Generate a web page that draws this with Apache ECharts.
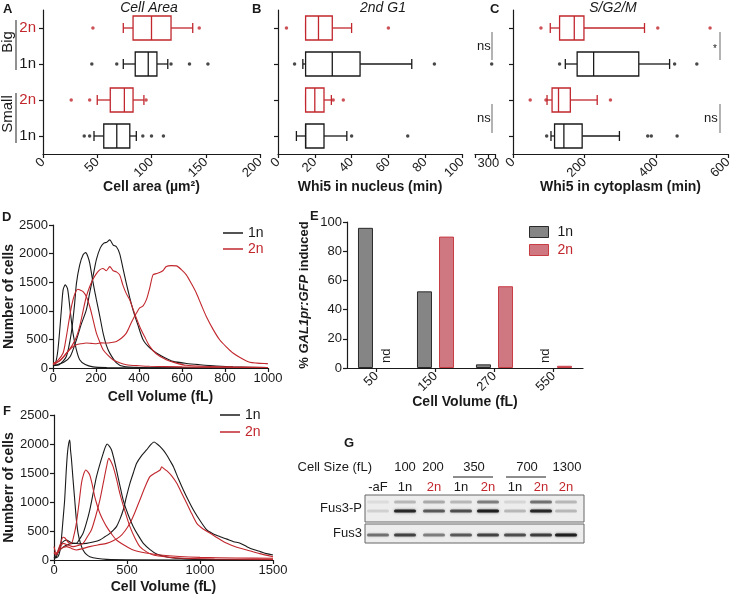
<!DOCTYPE html>
<html><head><meta charset="utf-8">
<script src="https://cdn.jsdelivr.net/npm/echarts@6/dist/echarts.min.js"></script>
<style>html,body{margin:0;padding:0;background:#fff}#c{width:740px;height:598px}</style>
</head><body><div id="c"></div>
<script>
// ---------- DATA ----------
const rowCats = ['Big 2n', 'Big 1n', 'Small 2n', 'Small 1n'];
// box stats per row: [whisker low, Q1, median, Q3, whisker high]
const areaBox = [[74, 83, 100, 118, 138], [74, 85, 97, 105, 115], [50, 62, 75, 83, 93], [47, 56, 68, 80, 86]];
const areaOut = [[46, 144], [45, 68, 118, 135, 152], [26, 43, 95], [38, 43, 92, 100, 111]];
const g1Box = [[15, 15, 22, 29.5, 40], [13.5, 15, 29.5, 44.6, 72.7], [15, 15, 20, 25, 29], [10, 15, 15, 25, 37.4]];
const g1Out = [[4.6, 60], [9, 85], [30, 35.5], [40, 70.5]];
const g1Far = [[], [305], [], []];
const sgBox = [[104, 130, 171, 198, 367], [146, 179, 225, 351, 437], [95, 109, 127, 160, 235], [106, 116, 142, 193, 297]];
const sgOut = [[78, 404, 550], [130, 451, 513], [48, 92, 272], [94, 376, 386, 458]];

// D: cell volume distributions [fL, cells]
const D1nA = [[0,40],[10,60],[23,320],[39,1017],[47,1366],[57,1453],[68,1380],[80,1000],[93,610],[108,330],[124,145],[150,60],[186,20],[250,8],[400,3],[1000,0]];
const D1nB = [[0,40],[30,60],[62,200],[85,610],[100,1100],[109,1480],[124,1800],[140,1980],[152,2017],[162,1950],[171,1830],[186,1500],[202,1190],[218,900],[233,610],[248,400],[264,260],[295,90],[326,30],[400,10],[600,3],[1000,0]];
const D1nC = [[0,40],[50,100],[80,200],[109,494],[130,750],[155,1017],[170,1300],[186,1600],[202,1900],[220,2100],[235,2180],[250,2200],[264,2240],[280,2150],[295,2120],[310,2000],[325,1750],[341,1480],[357,1230],[372,1017],[395,750],[419,494],[450,350],[481,262],[520,180],[558,116],[620,80],[682,58],[760,35],[837,20],[1000,8]];
const D2nA = [[0,80],[20,120],[47,262],[60,500],[70,727],[82,1000],[93,1190],[105,1330],[116,1378],[128,1360],[140,1337],[155,1250],[171,1075],[186,850],[202,610],[218,450],[233,320],[256,220],[279,145],[310,90],[341,58],[400,40],[450,30],[600,20],[800,12],[1000,10]];
const D2nB = [[0,80],[30,120],[62,250],[90,400],[110,550],[124,727],[140,1000],[155,1250],[171,1424],[186,1550],[202,1650],[217,1715],[232,1740],[248,1700],[264,1773],[280,1700],[295,1680],[310,1628],[325,1450],[341,1300],[357,1190],[380,950],[403,727],[427,540],[450,378],[480,250],[527,145],[570,90],[620,47],[700,30],[837,15],[1000,10]];
const D2nC = [[0,60],[16,87],[40,160],[62,262],[85,350],[109,407],[132,425],[155,436],[178,430],[202,424],[225,440],[248,436],[272,445],[295,465],[318,520],[341,610],[365,800],[388,960],[403,1050],[419,1087],[435,1200],[450,1400],[465,1628],[480,1650],[496,1669],[511,1700],[527,1773],[550,1790],[574,1785],[597,1720],[620,1628],[643,1480],[667,1308],[690,1100],[713,901],[744,680],[775,494],[806,370],[837,262],[876,170],[915,99],[950,85],[992,76],[1000,75]];

// E: % GAL1pr:GFP induced
const eCats = ['50', '150', '270', '550'];
const e1n = [96, 52.5, 2.5, null];
const e2n = [null, 90, 56, 1.5];

// F: cell volume distributions [fL, cells]
const F1nA = [[0,30],[15,40],[27,57],[40,150],[50,345],[62,700],[73,1034],[83,1500],[92,1839],[100,2000],[108,2069],[113,1900],[119,1753],[130,1400],[142,1034],[153,700],[165,460],[182,280],[199,172],[220,100],[245,57],[300,25],[360,10],[500,3],[1500,0]];
const F1nB = [[0,30],[16,57],[35,200],[50,287],[70,330],[85,345],[110,310],[130,290],[153,287],[175,360],[199,460],[222,640],[245,862],[268,1150],[291,1437],[314,1650],[337,1839],[352,1950],[364,2000],[380,1960],[394,1897],[410,1750],[428,1552],[450,1300],[474,1034],[508,780],[543,575],[578,420],[612,287],[658,180],[703,103],[760,60],[817,34],[900,20],[1000,10],[1500,3]];
const F1nC = [[0,30],[20,100],[39,172],[80,250],[130,287],[175,280],[222,287],[268,310],[314,345],[348,400],[383,460],[405,510],[428,575],[451,700],[474,862],[497,1100],[520,1322],[543,1500],[566,1667],[600,1800],[634,1897],[660,1980],[685,2034],[706,2000],[727,1954],[750,1890],[772,1810],[795,1710],[818,1609],[852,1400],[886,1207],[920,1030],[955,862],[1000,680],[1047,517],[1092,450],[1138,402],[1184,360],[1230,316],[1275,290],[1321,230],[1367,180],[1413,144],[1456,110],[1500,86]];
const F2nA = [[0,230],[16,115],[40,250],[62,391],[75,380],[85,345],[100,300],[119,287],[136,420],[153,632],[170,950],[188,1322],[203,1480],[218,1552],[232,1520],[245,1466],[262,1300],[279,1092],[296,940],[314,805],[337,680],[360,575],[394,450],[428,345],[485,250],[543,172],[630,120],[726,86],[860,60],[1000,46],[1250,35],[1500,29]];
const F2nB = [[0,120],[16,86],[40,200],[62,287],[95,260],[130,230],[165,250],[199,287],[228,400],[256,517],[285,750],[314,1034],[337,1320],[360,1609],[375,1753],[390,1700],[405,1609],[428,1400],[451,1149],[485,850],[520,575],[554,380],[588,230],[634,140],[680,86],[780,50],[886,29],[1100,18],[1500,10]];
const F2nC = [[0,130],[16,115],[50,200],[85,230],[120,200],[153,172],[200,200],[245,230],[300,260],[360,287],[405,330],[451,402],[486,500],[520,632],[554,820],[588,1034],[622,1250],[657,1437],[692,1500],[727,1552],[738,1609],[755,1570],[772,1540],[806,1450],[841,1322],[875,1150],[909,977],[943,800],[978,632],[1024,530],[1070,460],[1127,370],[1184,287],[1252,220],[1321,172],[1410,110],[1500,57]];

// G: blot lanes and relative band intensities
const sizeLabels = ['100', '200', '350', '700', '1300'];
const blotLanes = ['-aF', '1n', '2n', '1n', '2n', '1n', '2n', '2n'];
const fus3pLow = [0.12, 0.85, 0.6, 0.65, 0.9, 0.22, 0.85, 0.22];
const fus3pUp = [0.08, 0.22, 0.28, 0.22, 0.45, 0.1, 0.5, 0.22];
const fus3 = [0.5, 0.7, 0.45, 0.6, 0.7, 0.65, 0.72, 0.9];

// ---------- STYLE ----------
const FONT = 'Liberation Sans, Arial, Helvetica, sans-serif';
const RED = '#c1272d', BLK = '#1a1a1a', GREY = '#8a8a8a';
const rowColors = [RED, BLK, RED, BLK];

function vAxis(grid, min, max, interval, extra) {
  const a = {
    type: 'value', gridIndex: grid, min: min, max: max, interval: interval,
    nameMoveOverlap: false,
    axisLine: { show: true, onZero: false, lineStyle: { color: BLK, width: 1.2 } },
    axisTick: { show: true, length: 4, lineStyle: { color: BLK, width: 1.2 } },
    axisLabel: { color: BLK, fontSize: 13, fontFamily: FONT, margin: 5, formatter: v => String(v) },
    splitLine: { show: false },
    nameTextStyle: { color: BLK, fontSize: 14, fontWeight: 'bold', fontFamily: FONT }
  };
  if (extra) {
    for (const k in extra) {
      if (typeof extra[k] === 'object' && a[k] && !Array.isArray(extra[k])) a[k] = Object.assign({}, a[k], extra[k]);
      else a[k] = extra[k];
    }
  }
  return a;
}
function catYAxis(grid, showLabels, showLine) {
  return {
    type: 'category', gridIndex: grid, data: rowCats, inverse: true,
    axisLine: { show: showLine, lineStyle: { color: BLK, width: 1.2 } },
    axisTick: { show: showLine, alignWithLabel: true, length: 4, lineStyle: { color: BLK, width: 1.2 } },
    axisLabel: showLabels ? {
      margin: 7, fontFamily: FONT,
      formatter: v => v.indexOf('2n') >= 0 ? '{r|2n}' : '{k|1n}',
      rich: { r: { color: RED, fontSize: 15, fontFamily: FONT }, k: { color: BLK, fontSize: 15, fontFamily: FONT } }
    } : { show: false },
    splitLine: { show: false }
  };
}
function boxSeries(stats, ax) {
  return {
    type: 'custom', xAxisIndex: ax, yAxisIndex: ax, coordinateSystem: 'cartesian2d',
    data: stats.map((s, i) => [i].concat(s)),
    encode: { x: [1, 2, 3, 4, 5], y: 0 },
    silent: true,
    renderItem: function (params, api) {
      const cat = api.value(0);
      const col = rowColors[cat];
      const p = [1, 2, 3, 4, 5].map(d => api.coord([api.value(d), cat]));
      const y = p[0][1], bh = 24, ch = 10;
      const st = { stroke: col, lineWidth: 1.3, fill: null };
      return {
        type: 'group', children: [
          { type: 'line', shape: { x1: p[0][0], y1: y, x2: p[1][0], y2: y }, style: st },
          { type: 'line', shape: { x1: p[3][0], y1: y, x2: p[4][0], y2: y }, style: st },
          { type: 'line', shape: { x1: p[0][0], y1: y - ch / 2, x2: p[0][0], y2: y + ch / 2 }, style: st },
          { type: 'line', shape: { x1: p[4][0], y1: y - ch / 2, x2: p[4][0], y2: y + ch / 2 }, style: st },
          { type: 'rect', shape: { x: p[1][0], y: y - bh / 2, width: p[3][0] - p[1][0], height: bh }, style: { stroke: col, lineWidth: 1.3, fill: '#fff' } },
          { type: 'line', shape: { x1: p[2][0], y1: y - bh / 2, x2: p[2][0], y2: y + bh / 2 }, style: st }
        ]
      };
    }
  };
}
function outSeries(outs, ax) {
  const data = [];
  outs.forEach((arr, i) => arr.forEach(v => data.push({ value: [v, i], itemStyle: { color: rowColors[i] } })));
  return { type: 'scatter', xAxisIndex: ax, yAxisIndex: ax, data: data, symbolSize: 3.5, silent: true };
}
function curve(name, data, ax) {
  return {
    type: 'line', name: name, xAxisIndex: ax, yAxisIndex: ax, data: data,
    showSymbol: false, smooth: 0.25, silent: true,
    lineStyle: { width: 1.1, color: name === '1n' ? BLK : RED }, itemStyle: { color: name === '1n' ? BLK : RED }
  };
}
const noneBounds = { outerBoundsMode: 'none', containLabel: false };

const option = {
  animation: false,
  backgroundColor: '#fff',
  textStyle: { fontFamily: FONT },
  grid: [
    Object.assign({ left: 43, top: 10, width: 217, height: 144 }, noneBounds),   // A
    Object.assign({ left: 278, top: 10, width: 184, height: 144 }, noneBounds),  // B
    Object.assign({ left: 475, top: 10, width: 20, height: 144 }, noneBounds),   // B break
    Object.assign({ left: 513, top: 10, width: 215, height: 144 }, noneBounds),  // C
    Object.assign({ left: 53, top: 225, width: 215, height: 143 }, noneBounds),  // D
    Object.assign({ left: 347, top: 222, width: 236, height: 146 }, noneBounds), // E
    Object.assign({ left: 54, top: 415, width: 219, height: 145 }, noneBounds)   // F
  ],
  xAxis: [
    vAxis(0, 0, 200, 50, { axisLabel: { rotate: 45, margin: 6 }, name: 'Cell area (µm²)', nameLocation: 'middle', nameGap: 26 }),
    vAxis(1, 0, 100, 20, { axisLabel: { rotate: 45, margin: 6 }, name: 'Whi5 in nucleus (min)', nameLocation: 'middle', nameGap: 26 }),
    vAxis(2, 280, 310, 20, { axisLabel: { margin: 3, formatter: v => v === 300 ? '300' : '' } }),
    vAxis(3, 0, 600, 200, { axisLabel: { rotate: 45, margin: 6 }, name: 'Whi5 in cytoplasm (min)', nameLocation: 'middle', nameGap: 26 }),
    vAxis(4, 0, 1000, 200, { axisLabel: { margin: 4 }, name: 'Cell Volume (fL)', nameLocation: 'middle', nameGap: 22 }),
    {
      type: 'category', gridIndex: 5, data: eCats, nameMoveOverlap: false,
      axisLine: { show: true, lineStyle: { color: BLK, width: 1.2 } },
      axisTick: { show: true, alignWithLabel: true, length: 4, lineStyle: { color: BLK, width: 1.2 } },
      axisLabel: { rotate: 45, color: BLK, fontSize: 13, fontFamily: FONT, margin: 6 },
      name: 'Cell Volume (fL)', nameLocation: 'middle', nameGap: 27,
      nameTextStyle: { color: BLK, fontSize: 14, fontWeight: 'bold', fontFamily: FONT }
    },
    vAxis(6, 0, 1500, 500, { axisLabel: { margin: 4 }, name: 'Cell Volume (fL)', nameLocation: 'middle', nameGap: 20 })
  ],
  yAxis: [
    catYAxis(0, true, true),
    catYAxis(1, false, true),
    catYAxis(2, false, false),
    catYAxis(3, false, true),
    vAxis(4, 0, 2500, 500, { name: 'Number of cells', nameLocation: 'middle', nameGap: 37, nameRotate: 90 }),
    vAxis(5, 0, 100, 20, {
      name: '% {i|GAL1pr:GFP} induced', nameLocation: 'middle', nameGap: 36, nameRotate: 90,
      nameTextStyle: { fontSize: 13, rich: { i: { fontStyle: 'italic', fontWeight: 'bold', fontSize: 13, fontFamily: FONT, color: BLK } } }
    }),
    vAxis(6, 0, 2500, 500, { name: 'Numberr of cells', nameLocation: 'middle', nameGap: 38, nameRotate: 90 })
  ],
  legend: [
    {
      left: 223, top: 226, orient: 'vertical', padding: 0, itemGap: 2, itemWidth: 20, itemHeight: 1.5,
      textStyle: { fontSize: 14, fontFamily: FONT }, selectedMode: false,
      data: [
        { name: '1n', icon: 'rect', itemStyle: { color: BLK, borderWidth: 0 }, textStyle: { color: BLK } },
        { name: '2n', icon: 'rect', itemStyle: { color: RED, borderWidth: 0 }, textStyle: { color: RED } }
      ]
    },
    {
      left: 220, top: 408, orient: 'vertical', padding: 0, itemGap: 3, itemWidth: 20, itemHeight: 1.5,
      textStyle: { fontSize: 14, fontFamily: FONT }, selectedMode: false,
      data: [
        { name: '1n', icon: 'rect', itemStyle: { color: BLK, borderWidth: 0 }, textStyle: { color: BLK } },
        { name: '2n', icon: 'rect', itemStyle: { color: RED, borderWidth: 0 }, textStyle: { color: RED } }
      ]
    },
    {
      left: 529, top: 225, orient: 'vertical', padding: 0, itemGap: 4, itemWidth: 19, itemHeight: 11,
      textStyle: { fontSize: 14, fontFamily: FONT, padding: [0, 0, 0, 4] }, selectedMode: false,
      data: [
        { name: '1n', icon: 'rect', itemStyle: { color: '#858585', borderColor: '#2a2a2a', borderWidth: 1 }, textStyle: { color: BLK } },
        { name: '2n', icon: 'rect', itemStyle: { color: '#d07882', borderColor: '#c83c44', borderWidth: 1 }, textStyle: { color: RED } }
      ]
    }
  ],
  series: [
    boxSeries(areaBox, 0), outSeries(areaOut, 0),
    boxSeries(g1Box, 1), outSeries(g1Out, 1), outSeries(g1Far, 2),
    boxSeries(sgBox, 3), outSeries(sgOut, 3),
    curve('1n', D1nA, 4), curve('1n', D1nB, 4), curve('1n', D1nC, 4),
    curve('2n', D2nA, 4), curve('2n', D2nB, 4), curve('2n', D2nC, 4),
    {
      type: 'bar', name: '1n', xAxisIndex: 5, yAxisIndex: 5, data: e1n, barWidth: 15, barGap: '47%', silent: true,
      itemStyle: { color: '#858585', borderColor: '#2a2a2a', borderWidth: 1 }
    },
    {
      type: 'bar', name: '2n', xAxisIndex: 5, yAxisIndex: 5, data: e2n, barWidth: 15, barGap: '47%', silent: true,
      itemStyle: { color: '#d07882', borderColor: '#c83c44', borderWidth: 1 }
    },
    curve('1n', F1nA, 6), curve('1n', F1nB, 6), curve('1n', F1nC, 6),
    curve('2n', F2nA, 6), curve('2n', F2nB, 6), curve('2n', F2nC, 6)
  ]
};

const chart = echarts.init(document.getElementById('c'));
chart.setOption(option);

// ---------- annotations ----------
function txt(t, x, y, o) {
  return {
    type: 'text', x: x, y: y, rotation: (o && o.rot) || 0, silent: true,
    style: Object.assign({ text: t, fill: BLK, font: '13px ' + FONT, textAlign: 'left', textVerticalAlign: 'middle' }, (o && o.style) || {})
  };
}
function ln(x1, y1, x2, y2, col, w) {
  return { type: 'line', silent: true, shape: { x1: x1, y1: y1, x2: x2, y2: y2 }, style: { stroke: col || GREY, lineWidth: w || 1.3 } };
}
const g = [];
// panel letters
[['A', 3, 9], ['B', 252, 9], ['C', 490, 9], ['D', 2, 217], ['E', 310, 216], ['F', 3, 411], ['G', 344, 443]].forEach(a =>
  g.push(txt(a[0], a[1], a[2], { style: { font: 'bold 13px ' + FONT } })));
// panel titles
[['Cell Area', 149], ['2nd G1', 383], ['S/G2/M', 613]].forEach(a =>
  g.push(txt(a[0], a[1], 8, { style: { font: 'italic 14px ' + FONT, textAlign: 'center' } })));
// group labels
g.push(txt('Big', 8, 42, { rot: Math.PI / 2, style: { font: '15px ' + FONT, textAlign: 'center' } }));
g.push(txt('Small', 8, 114, { rot: Math.PI / 2, style: { font: '15px ' + FONT, textAlign: 'center' } }));
g.push(ln(16, 20, 16, 70, '#555', 1.3));
g.push(ln(16, 93, 16, 143, '#555', 1.3));
// significance
g.push(txt('ns', 477, 46, { style: { font: '13px ' + FONT } }));
g.push(txt('ns', 477, 118, { style: { font: '13px ' + FONT } }));
g.push(ln(492, 32, 492, 60));
g.push(ln(492, 104, 492, 133));
g.push(txt('*', 715, 49, { style: { font: '10px ' + FONT, textAlign: 'center' } }));
g.push(txt('ns', 704, 118, { style: { font: '13px ' + FONT } }));
g.push(ln(720, 32, 720, 60));
g.push(ln(720, 104, 720, 133));
// nd labels in E
const c50 = chart.convertToPixel({ xAxisIndex: 5, yAxisIndex: 5 }, ['50', 0]);
const c550 = chart.convertToPixel({ xAxisIndex: 5, yAxisIndex: 5 }, ['550', 0]);
g.push(txt('nd', c50[0] + 10, c50[1] - 5, { rot: Math.PI / 2, style: { font: '13px ' + FONT, textAlign: 'left' } }));
g.push(txt('nd', c550[0] - 8, c550[1] - 5, { rot: Math.PI / 2, style: { font: '13px ' + FONT, textAlign: 'left' } }));
// G blot
const laneX = [378, 405, 434, 461, 488, 515, 541, 566];
g.push(txt('Cell Size (fL)', 372, 467, { style: { textAlign: 'right' } }));
[[0, 405], [1, 433], [2, 474], [3, 527], [4, 567]].forEach(a =>
  g.push(txt(sizeLabels[a[0]], a[1], 467, { style: { textAlign: 'center' } })));
g.push(ln(453, 477, 493, 477, BLK, 1));
g.push(ln(506, 477, 546, 477, BLK, 1));
blotLanes.forEach((l, i) => g.push(txt(l, laneX[i], 487, { style: { textAlign: 'center', fill: l === '2n' ? RED : BLK } })));
g.push(txt('Fus3-P', 362, 508, { style: { textAlign: 'right' } }));
g.push(txt('Fus3', 362, 533, { style: { textAlign: 'right' } }));
g.push({ type: 'rect', silent: true, shape: { x: 365, y: 495, width: 219, height: 27 }, style: { fill: '#ededed', stroke: '#666', lineWidth: 1 } });
g.push({ type: 'rect', silent: true, shape: { x: 365, y: 524, width: 219, height: 19 }, style: { fill: '#ededed', stroke: '#666', lineWidth: 1 } });
function band(x, y, a) {
  return {
    type: 'rect', silent: true, shape: { x: x - 11, y: y - 1.5, width: 22, height: 3, r: 1.5 },
    style: { fill: 'rgba(20,20,20,' + a + ')', shadowBlur: 2.5, shadowColor: 'rgba(20,20,20,' + (a * 0.8) + ')' }
  };
}
laneX.forEach((x, i) => {
  g.push(band(x, 502, fus3pUp[i]));
  g.push(band(x, 511, fus3pLow[i]));
  g.push(band(x, 535, fus3[i]));
});
chart.setOption({ graphic: g });
</script>
</body></html>
